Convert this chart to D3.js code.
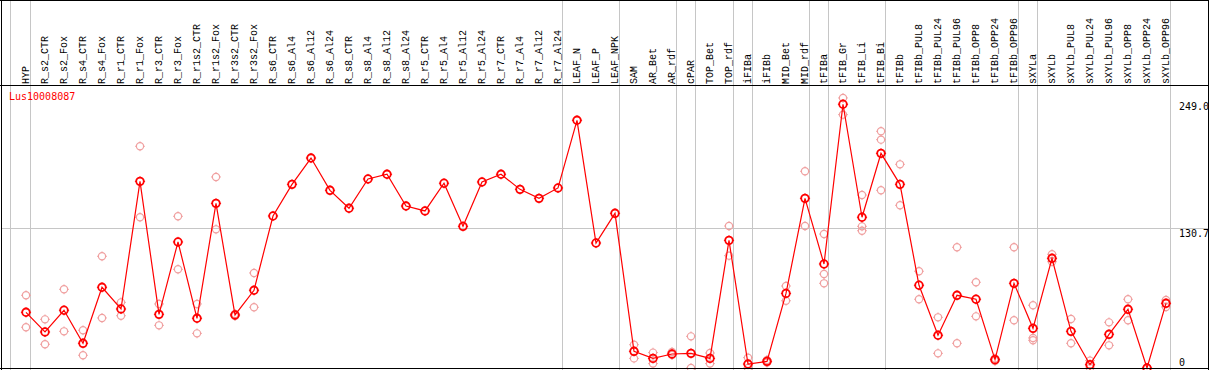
<!DOCTYPE html>
<html>
<head>
<meta charset="utf-8">
<script src="https://cdn.jsdelivr.net/npm/d3@7/dist/d3.min.js"></script>
<style>
  html, body { margin: 0; padding: 0; background: #fff; }
  svg { display: block; }
  text { font-family: "DejaVu Sans Mono", "Liberation Mono", monospace; font-size: 10px; }
  text.lab { font-family: "Liberation Mono", "DejaVu Sans Mono", monospace; font-size: 10px; }
</style>
</head>
<body>
<script>
const title = "Lus10008087";
const categories = ["HYP","R_s2_CTR","R_s2_Fox","R_s4_CTR","R_s4_Fox","R_r1_CTR","R_r1_Fox","R_r3_CTR","R_r3_Fox","R_r1s2_CTR","R_r1s2_Fox","R_r3s2_CTR","R_r3s2_Fox","R_s6_CTR","R_s6_Al4","R_s6_Al12","R_s6_Al24","R_s8_CTR","R_s8_Al4","R_s8_Al12","R_s8_Al24","R_r5_CTR","R_r5_Al4","R_r5_Al12","R_r5_Al24","R_r7_CTR","R_r7_Al4","R_r7_Al12","R_r7_Al24","LEAF_N","LEAF_P","LEAF_NPK","SAM","AR_Bet","AR_rdf","cPAR","TOP_Bet","TOP_rdf","iFIBa","iFIBb","MID_Bet","MID_rdf","tFIBa","tFIB_Gr","tFIB_Li","tFIB_Bi","tFIBb","tFIBb_PUL8","tFIBb_PUL24","tFIBb_PUL96","tFIBb_OPP8","tFIBb_OPP24","tFIBb_OPP96","sXYLa","sXYLb","sXYLb_PUL8","sXYLb_PUL24","sXYLb_PUL96","sXYLb_OPP8","sXYLb_OPP24","sXYLb_OPP96"];
const means = [52.1,33.7,54.0,23.1,75.5,55.2,174.6,50.2,117.9,46.5,154.0,49.6,72.7,
  142.2,171.8,196.4,166.2,149.4,176.8,181.2,151.5,146.9,172.8,132.5,174.0,181.2,167.1,158.7,168.4,
  231.7,116.9,144.7,
  15.6,9.0,13.1,13.7,9.0,119.4,3.7,6.2,69.8,158.7,
  97.3,246.7,141.0,200.8,171.8,77.4,30.6,68.0,64.3,7.8,79.2,
  37.1,102.6,34.3,3.1,31.5,54.9,0,60.5];
const N = null;
const rep1 = [68.0,45.5,73.6,35.3,104.5,61.4,207.4,59.9,141.9,59.9,178.7,50.5,88.9,
  N,N,N,N,N,N,N,N,N,N,N,N,N,N,N,N,N,N,N,
  21.8,14.4,15.0,29.6,14.0,132.8,9.7,7.5,76.7,184.0,
  125.3,252.6,161.8,221.4,190.5,90.5,47.4,112.9,80.2,9.0,112.9,
  58.7,106.4,45.8,6.9,42.7,64.3,0,63.6];
const rep2 = [38.1,22.2,34.3,11.9,46.8,48.9,141.0,39.9,92.3,32.4,129.7,48.6,56.8,
  N,N,N,N,N,N,N,N,N,N,N,N,N,N,N,N,N,N,N,
  9.0,4.1,12.2,0,4.1,105.1,0,5.0,62.9,132.8,
  87.9,237.0,132.5,213.6,152.2,64.3,13.7,23.1,48.3,6.6,44.6,
  28.1,99.4,23.1,0,21.2,44.6,0,57.1];
const rep3 = [N,N,N,N,N,N,N,N,N,N,N,N,N,
  N,N,N,N,N,N,N,N,N,N,N,N,N,N,N,N,N,N,N,
  N,N,N,N,N,N,N,N,N,N,
  79.2,N,128.4,166.2,N,N,N,N,N,N,N,
  25.9,N,N,N,N,N,N,N];
const groupEnds = ["HYP","R_r7_Al24","LEAF_NPK","AR_rdf","cPAR","TOP_rdf","iFIBa","MID_rdf","tFIBa","tFIB_Bi","tFIBb_OPP96","sXYLa","sXYLb_OPP96"];
const axisTicks = [249.0, 130.7, 0];

const W = 1209, H = 370;
const svg = d3.select("body").append("svg").attr("width", W).attr("height", H);
svg.append("rect").attr("width", W).attr("height", H).attr("fill", "#fff");

const x = d3.scalePoint().domain(categories).range([26, 1166]);
const y = d3.scaleLinear().domain([0, 249]).range([368, 101.8]);
const step = x.step();

// vertical grey separators
const sepX = [x(categories[0]) - step * 0.84].concat(groupEnds.map(c => x(c) + step * 0.24));
svg.append("g").selectAll("line").data(sepX).join("line")
  .attr("x1", d => Math.floor(d) + 0.5).attr("x2", d => Math.floor(d) + 0.5)
  .attr("y1", 0).attr("y2", H)
  .attr("stroke", "#c6c6c6").attr("stroke-width", 1);

// horizontal grey line at middle tick
svg.append("line")
  .attr("x1", 1).attr("x2", W)
  .attr("y1", Math.round(y(axisTicks[1])) + 0.5).attr("y2", Math.round(y(axisTicks[1])) + 0.5)
  .attr("stroke", "#c6c6c6").attr("stroke-width", 1);

// header labels
svg.append("g").selectAll("text").data(categories).join("text")
  .attr("class", "lab")
  .attr("transform", d => `translate(${Math.round(x(d) + 3)},84) rotate(-90)`)
  .attr("fill", "#000")
  .text(d => d);

// title
svg.append("text").attr("x", 9).attr("y", 100).attr("fill", "#ff0000").text(title);

// right axis labels
svg.append("g").selectAll("text").data(axisTicks).join("text")
  .attr("x", 1179)
  .attr("y", d => d === 0 ? y(d) - 2 : y(d) + 8.5)
  .attr("fill", "#000")
  .text(d => d === 0 ? "0" : d.toFixed(1));

function marker(g, cx, cy, r, color, sw) {
  g.append("circle").attr("cx", cx).attr("cy", cy).attr("r", r)
    .attr("fill", "none").attr("stroke", color).attr("stroke-width", sw);
  const t = r + 1.3;
  g.append("path")
    .attr("d", `M${cx},${cy - t}V${cy - r + 0.3}M${cx},${cy + r - 0.3}V${cy + t}M${cx - t},${cy}H${cx - r + 0.3}M${cx + r - 0.3},${cy}H${cx + t}`)
    .attr("stroke", color).attr("stroke-width", 1);
}
// replicate markers
const repG = svg.append("g");
[rep1, rep2, rep3].forEach(arr => {
  arr.forEach((v, i) => {
    if (v !== null) marker(repG, x(categories[i]), y(v), 3.6, "#f0a0a0", 1.2);
  });
});

// mean line
const line = d3.line().x((d, i) => x(categories[i])).y(d => y(d));
svg.append("path").datum(means).attr("d", line)
  .attr("fill", "none").attr("stroke", "#ff0000").attr("stroke-width", 1.2);

// mean markers
const meanG = svg.append("g");
means.forEach((v, i) => marker(meanG, x(categories[i]), y(v), 3.8, "#ff0000", 1.8));

// frame
const frame = svg.append("g").attr("stroke", "#000").attr("stroke-width", 1);
frame.append("line").attr("x1", 0).attr("x2", W).attr("y1", 0.5).attr("y2", 0.5);
frame.append("line").attr("x1", 1.5).attr("x2", 1.5).attr("y1", 0).attr("y2", H);
frame.append("line").attr("x1", 0).attr("x2", W).attr("y1", 85.5).attr("y2", 85.5);
frame.append("line").attr("x1", 0).attr("x2", W).attr("y1", 368.5).attr("y2", 368.5);
frame.append("line").attr("x1", 1208.5).attr("x2", 1208.5).attr("y1", 0).attr("y2", H);
</script>
</body>
</html>
